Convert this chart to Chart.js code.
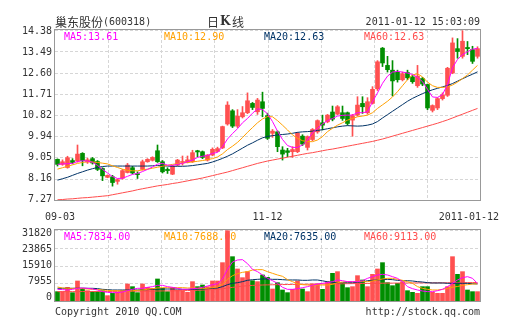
<!DOCTYPE html>
<html>
<head>
<meta charset="utf-8">
<script src="https://cdn.jsdelivr.net/npm/chart.js@4.4.0/dist/chart.umd.min.js"></script>
<style>
body { margin: 0; background: #fff; }
#wrap { position: relative; width: 505px; height: 330px; }
canvas { position: absolute; left: 0; top: 0; }
</style>
</head>
<body>
<div id="wrap">
  <canvas id="kline" width="505" height="330"></canvas>
  <canvas id="vol" width="505" height="330"></canvas>
</div>
<script>
// 日K线数据 (09-03 ~ 2011-01-12, 85 个交易日)
const openP = [8.97,8.76,8.63,8.92,8.90,9.22,8.86,9.00,8.88,8.59,
  8.22,8.24,8.05,8.18,8.42,8.62,8.36,8.55,8.87,8.93,
  9.33,8.87,8.55,8.35,8.73,8.84,8.85,8.87,9.33,9.29,
  8.94,9.15,9.30,9.45,10.45,11.00,10.36,10.75,10.92,11.31,
  10.96,11.38,10.80,10.06,10.12,9.36,9.33,9.29,9.29,9.94,
  9.47,9.80,10.12,10.50,10.54,10.95,10.86,10.92,10.92,10.61,
  10.82,11.31,10.92,11.31,11.92,13.62,12.90,12.70,12.62,12.30,
  12.60,12.42,12.05,12.35,12.10,11.02,11.12,11.51,11.65,12.58,
  13.60,13.28,13.65,13.56,13.28];
const highP = [8.99,8.95,9.10,9.00,9.57,9.25,9.02,9.05,8.92,8.62,
  8.32,8.30,8.15,8.55,8.80,8.68,8.45,8.94,9.00,9.08,
  9.57,8.92,8.62,8.72,8.97,9.11,9.11,9.35,9.35,9.32,
  9.17,9.45,9.48,10.36,11.38,11.05,11.05,11.18,11.75,11.35,
  11.52,11.78,10.90,10.22,10.16,9.50,9.43,9.50,10.10,10.00,
  9.95,10.26,10.62,10.82,10.85,11.20,11.22,11.20,10.95,10.85,
  11.59,11.59,11.55,12.01,13.10,13.65,13.28,13.10,12.70,12.62,
  12.70,12.48,12.90,12.40,12.12,11.25,11.55,11.75,12.82,14.05,
  14.02,14.35,13.90,13.70,13.68];
const lowP = [8.69,8.72,8.60,8.78,8.85,8.70,8.80,8.77,8.50,8.08,
  8.20,7.85,7.93,8.14,8.40,8.36,8.17,8.52,8.85,8.90,
  8.84,8.40,8.38,8.33,8.70,8.73,8.82,8.84,9.08,9.00,
  8.90,9.12,9.28,9.42,10.40,10.30,10.30,10.70,10.88,11.05,
  10.85,10.75,9.80,9.89,9.29,8.94,9.08,9.05,9.25,9.55,
  9.36,9.75,10.06,10.20,10.50,10.58,10.84,10.60,10.40,9.94,
  10.78,10.89,10.86,11.28,11.85,12.85,12.62,11.62,12.20,12.25,
  12.30,12.15,11.98,12.05,11.05,10.95,11.05,11.45,11.60,12.55,
  13.20,13.20,13.35,12.98,13.20];
const closeP = [8.76,8.87,9.04,8.84,9.19,8.92,8.95,8.82,8.55,8.28,
  8.30,8.00,8.12,8.50,8.73,8.40,8.33,8.87,8.97,9.05,
  8.87,8.45,8.50,8.69,8.94,8.87,8.95,9.25,9.28,9.05,
  9.15,9.39,9.42,10.34,11.24,10.36,10.78,10.92,11.42,11.14,
  11.45,11.10,9.85,10.15,9.50,9.19,9.26,9.38,10.06,9.61,
  9.92,10.22,10.59,10.40,10.82,10.65,11.17,10.68,10.47,10.80,
  11.24,11.17,11.38,11.90,13.05,13.00,12.72,12.25,12.30,12.55,
  12.38,12.22,12.45,12.12,11.12,11.22,11.51,11.67,12.78,13.84,
  13.48,13.91,13.60,13.07,13.60];

// 均线
const ma5 = [8.76,8.78,8.79,8.80,8.88,8.91,8.90,8.85,8.72,8.55,
  8.40,8.25,8.17,8.18,8.26,8.34,8.38,8.46,8.55,8.65,
  8.77,8.80,8.73,8.72,8.76,8.80,8.87,8.94,9.05,9.10,
  9.13,9.22,9.26,9.50,9.82,10.05,10.25,10.50,10.68,10.90,
  11.08,11.05,10.88,10.55,10.15,9.80,9.55,9.47,9.47,9.57,
  9.78,10.08,10.27,10.45,10.59,10.68,10.78,10.81,10.82,10.82,
  10.92,10.92,10.96,11.38,11.75,12.15,12.45,12.62,12.65,12.62,
  12.58,12.52,12.40,12.22,11.90,11.58,11.56,11.68,12.10,12.80,
  13.15,13.35,13.47,13.58,13.61];
const ma10 = [8.56,8.62,8.68,8.74,8.80,8.84,8.87,8.86,8.84,8.81,
  8.78,8.70,8.63,8.56,8.51,8.49,8.49,8.53,8.56,8.60,
  8.64,8.68,8.72,8.76,8.79,8.81,8.84,8.86,8.89,8.92,
  8.96,9.00,9.07,9.20,9.38,9.52,9.68,9.88,10.10,10.30,
  10.50,10.66,10.76,10.75,10.59,10.40,10.20,9.99,9.85,9.75,
  9.71,9.71,9.78,9.92,10.13,10.27,10.40,10.50,10.61,10.68,
  10.75,10.78,10.82,10.92,11.10,11.25,11.40,11.58,11.80,12.05,
  12.30,12.50,12.55,12.42,12.20,12.05,11.98,11.98,12.00,12.08,
  12.20,12.35,12.50,12.70,12.90];
const ma20 = [8.10,8.16,8.22,8.30,8.38,8.45,8.52,8.58,8.63,8.67,
  8.69,8.69,8.69,8.69,8.69,8.69,8.69,8.69,8.69,8.70,
  8.71,8.70,8.69,8.68,8.68,8.68,8.69,8.71,8.74,8.77,
  8.80,8.86,8.93,9.01,9.10,9.20,9.32,9.44,9.56,9.66,
  9.77,9.87,9.93,9.96,9.99,10.01,10.03,10.06,10.10,10.12,
  10.13,10.15,10.18,10.21,10.25,10.29,10.33,10.36,10.38,10.37,
  10.36,10.37,10.40,10.45,10.55,10.70,10.84,10.98,11.12,11.26,
  11.40,11.52,11.62,11.72,11.80,11.88,11.94,12.00,12.06,12.14,
  12.24,12.34,12.44,12.53,12.63];
const ma60 = [7.28,7.29,7.31,7.32,7.34,7.36,7.37,7.39,7.41,7.43,
  7.45,7.49,7.53,7.57,7.61,7.65,7.70,7.74,7.78,7.82,
  7.86,7.89,7.92,7.96,7.99,8.03,8.07,8.11,8.15,8.19,
  8.24,8.29,8.34,8.39,8.44,8.50,8.56,8.62,8.68,8.74,
  8.80,8.85,8.90,8.94,8.98,9.02,9.06,9.10,9.14,9.18,
  9.22,9.25,9.29,9.33,9.37,9.40,9.44,9.48,9.52,9.56,
  9.60,9.64,9.68,9.72,9.77,9.82,9.88,9.94,10.00,10.06,
  10.12,10.18,10.24,10.30,10.36,10.42,10.48,10.55,10.62,10.70,
  10.78,10.86,10.94,11.02,11.10];

// 成交量及均量
const volume = [4190,4190,6130,3740,8970,5680,4630,4190,4190,4630,
  2390,3430,3890,4630,7620,6430,3740,7620,6130,5680,
  9870,5680,4190,6130,4930,4630,3890,8670,6430,7170,
  6430,8970,8970,17190,31500,19870,14350,10460,13150,9110,
  8670,11660,10610,5380,8220,4930,3740,5230,8970,5380,
  4190,7620,7620,5230,8670,12400,13150,7920,5980,6430,
  11360,9420,6430,11950,14350,17190,8220,6870,7920,8670,
  4630,3890,3430,6430,6430,3890,3430,3430,6430,19870,
  11950,13150,4930,4190,4190];
const vma5 = [5230,5110,4930,5230,5680,5830,5680,5380,4930,4190,
  3890,3740,3740,4030,4630,5230,5680,5680,6130,6430,
  7030,7030,6430,6130,5680,5230,5230,5530,5680,6130,
  6720,7320,7770,9870,14190,17480,18380,18530,16740,14190,
  13150,11660,10160,9110,7920,6130,5230,5230,5530,5980,
  6430,7030,7620,7920,8220,8670,9420,9110,8670,8670,
  8670,9110,10160,10910,11660,11950,11660,10910,10160,8670,
  6430,5530,4930,4480,4190,4190,4630,5230,6430,7920,
  9420,10460,10910,10160,7834];
const vma10 = [6270,5830,5680,5680,5680,5560,5380,5230,5110,4930,
  4790,4630,4630,4480,4480,4630,4790,4930,5230,5530,
  5830,5980,5980,5980,5980,5980,5830,5830,5680,5680,
  5680,5980,6270,7470,9710,11350,12250,12850,13150,13890,
  14050,14050,13150,12400,11660,11060,9570,8670,7620,7320,
  7170,7030,7170,7170,7170,7470,8220,8510,8670,8670,
  8670,8670,8670,8970,9420,9870,10160,10160,9710,9270,
  8670,7920,6430,5680,5230,4930,4930,5230,5680,6200,
  6500,7000,7300,7600,7688];
const vma20 = [5680,5680,5680,5680,5740,5740,5680,5680,5560,5230,
  5110,4930,4930,4930,4930,4930,4930,5020,5110,5230,
  5380,5380,5380,5380,5380,5230,5230,5230,5380,5380,
  5530,5680,5830,6430,7320,7920,8220,8670,9270,9560,
  9710,9870,9870,9710,9710,9560,9420,9420,9420,9270,
  9270,9420,9410,9050,8600,8330,8220,8220,8220,8220,
  8370,8510,9110,9270,9420,9560,9710,9560,9270,9110,
  9110,8970,8670,8510,8220,8070,8070,8070,7920,7920,
  7920,7920,7900,7750,7635];
const vma60 = [4180,4190,4200,4210,4220,4230,4240,4250,4260,4270,
  4280,4300,4320,4340,4360,4380,4400,4420,4440,4460,
  4480,4510,4540,4570,4600,4640,4680,4720,4800,4880,
  5000,5150,5300,5500,5800,6100,6400,6650,6850,7000,
  7100,7170,7230,7280,7320,7360,7400,7430,7460,7490,
  7520,7550,7580,7610,7640,7670,7700,7730,7760,7790,
  7820,7850,7880,7910,7940,7970,8000,8020,8040,8060,
  8080,8100,8110,8120,8130,8140,8150,8160,8170,8190,
  8210,8230,8250,8270,8290];

// 坐标轴刻度与文字
const priceTicks = [14.38, 13.49, 12.60, 11.71, 10.82, 9.94, 9.05, 8.16, 7.27];
const volTicks = [31820, 23865, 15910, 7955, 0];
const xTickLabels = ['09-03', '11-12', '2011-01-12'];
const xTickIndex = [0, 42, 84];
const priceLegend = ['MA5:13.61', 'MA10:12.90', 'MA20:12.63', 'MA60:12.63'];
const volLegend = ['MA5:7834.00', 'MA10:7688.00', 'MA20:7635.00', 'MA60:9113.00'];

const UP = '#ff5050';
const DOWN = '#008e00';
const maColors = ['#ff00ff', '#ffa000', '#003366', '#ff4c4c'];
const MONO = '10px "DejaVu Sans Mono", monospace';
const TXT = '#333333';

const labels = closeP.map((c, i) => i);
const barColors = closeP.map((c, i) => (c >= openP[i] ? UP : DOWN));

function maLine(data, color) {
  return { type: 'line', data: data, borderColor: color, borderWidth: 1,
           pointRadius: 0, tension: 0, order: 0 };
}

// 网格、边框、图例
function drawGrid(chart, ticks) {
  const ctx = chart.ctx, a = chart.chartArea, y = chart.scales.y;
  ctx.save();
  ctx.strokeStyle = '#d6d6d6';
  ctx.lineWidth = 1;
  ctx.setLineDash([3, 2]);
  ctx.beginPath();
  for (let k = 1; k < 8; k++) {
    const x = Math.round(a.left + a.width * k / 8) + 0.5;
    ctx.moveTo(x, a.top);
    ctx.lineTo(x, a.bottom);
  }
  ticks.forEach(v => {
    const py = Math.round(y.getPixelForValue(v)) + 0.5;
    ctx.moveTo(a.left, py);
    ctx.lineTo(a.right, py);
  });
  ctx.stroke();
  ctx.restore();
}

function drawBox(chart) {
  const ctx = chart.ctx, a = chart.chartArea;
  ctx.save();
  ctx.strokeStyle = '#999999';
  ctx.lineWidth = 1;
  ctx.strokeRect(a.left - 0.5, a.top - 0.5, a.width + 1, a.height + 1);
  ctx.restore();
}

function drawYLabels(chart, ticks, fmt, topOff, botOff) {
  const ctx = chart.ctx, a = chart.chartArea, y = chart.scales.y;
  ctx.save();
  ctx.font = MONO;
  ctx.fillStyle = TXT;
  ctx.textAlign = 'right';
  ctx.textBaseline = 'middle';
  ticks.forEach(v => {
    const py = y.getPixelForValue(v);
    const ly = a.top + topOff + (py - a.top) * (a.height - topOff - botOff) / a.height;
    ctx.fillText(fmt(v), a.left - 3, ly);
  });
  ctx.restore();
}

function drawLegend(chart, texts) {
  const ctx = chart.ctx, a = chart.chartArea;
  ctx.save();
  ctx.font = MONO;
  ctx.textAlign = 'left';
  ctx.textBaseline = 'middle';
  texts.forEach((t, k) => {
    ctx.fillStyle = maColors[k];
    ctx.fillText(t, a.left + 9 + k * 100, a.top + 7);
  });
  ctx.restore();
}

const pricePanel = {
  id: 'pricePanel',
  beforeDatasetsDraw(chart) {
    drawGrid(chart, priceTicks);
    drawLegend(chart, priceLegend);
  },
  afterDraw(chart) {
    const ctx = chart.ctx, a = chart.chartArea, x = chart.scales.x;
    drawBox(chart);
    drawYLabels(chart, priceTicks, v => v.toFixed(2), 1.5, 1);

    ctx.save();
    ctx.fillStyle = TXT;
    ctx.textBaseline = 'middle';
    // 标题
    ctx.textAlign = 'left';
    ctx.font = '12px "Noto Sans CJK SC"';
    ctx.fillText('巢东股份', a.left, 22);
    const w = ctx.measureText('巢东股份').width;
    ctx.font = MONO;
    ctx.fillText('(600318)', a.left + w, 22);
    ctx.font = '12px "Noto Sans CJK SC"';
    ctx.fillText('日', 207, 22);
    ctx.font = 'bold 12px "DejaVu Serif"';
    ctx.fillText('K', 220, 22);
    ctx.font = '12px "Noto Sans CJK SC"';
    ctx.fillText('线', 232, 22);
    ctx.font = MONO;
    ctx.textAlign = 'right';
    ctx.fillText('2011-01-12 15:03:09', a.right, 22);

    // 日期刻度
    ctx.textAlign = 'left';
    xTickLabels.forEach((t, k) => {
      const tw = ctx.measureText(t).width;
      let lx = x.getPixelForValue(xTickIndex[k]) - tw / 2;
      lx = Math.max(45, Math.min(lx, 499 - tw));
      ctx.fillText(t, lx, 217);
    });

    // 版权
    ctx.fillText('Copyright 2010 QQ.COM', a.left, 312);
    ctx.textAlign = 'right';
    ctx.fillText('http://stock.qq.com', a.right, 312);
    ctx.restore();
  }
};

const volPanel = {
  id: 'volPanel',
  beforeDatasetsDraw(chart) {
    drawGrid(chart, volTicks);
    drawLegend(chart, volLegend);
  },
  afterDraw(chart) {
    drawBox(chart);
    drawYLabels(chart, volTicks, v => String(v), 3, 4);
  }
};

const baseOptions = (padding, min, max) => ({
  responsive: false,
  animation: false,
  devicePixelRatio: 1,
  layout: { padding: padding },
  plugins: { legend: { display: false }, tooltip: { enabled: false } },
  scales: {
    x: { display: false, offset: true },
    y: { display: false, min: min, max: max }
  }
});

// K线图
new Chart(document.getElementById('kline'), {
  type: 'bar',
  data: {
    labels: labels,
    datasets: [
      maLine(ma5, maColors[0]),
      maLine(ma10, maColors[1]),
      maLine(ma20, maColors[2]),
      maLine(ma60, maColors[3]),
      {
        type: 'bar',
        data: openP.map((o, i) => [o, closeP[i]]),
        backgroundColor: barColors,
        barThickness: 4,
        minBarLength: 1,
        grouped: false,
        order: 1
      },
      {
        type: 'bar',
        data: lowP.map((l, i) => [l, highP[i]]),
        backgroundColor: barColors,
        barThickness: 1,
        grouped: false,
        order: 2
      }
    ]
  },
  options: baseOptions({ left: 55, right: 25, top: 30, bottom: 130 }, 7.27, 14.38),
  plugins: [pricePanel]
});

// 成交量
new Chart(document.getElementById('vol'), {
  type: 'bar',
  data: {
    labels: labels,
    datasets: [
      maLine(vma5, maColors[0]),
      maLine(vma10, maColors[1]),
      maLine(vma20, maColors[2]),
      maLine(vma60, maColors[3]),
      {
        type: 'bar',
        data: volume,
        backgroundColor: barColors,
        barThickness: 4,
        grouped: false,
        order: 1
      }
    ]
  },
  options: baseOptions({ left: 55, right: 25, top: 230, bottom: 29 }, 0, 31820),
  plugins: [volPanel]
});
</script>
</body>
</html>
